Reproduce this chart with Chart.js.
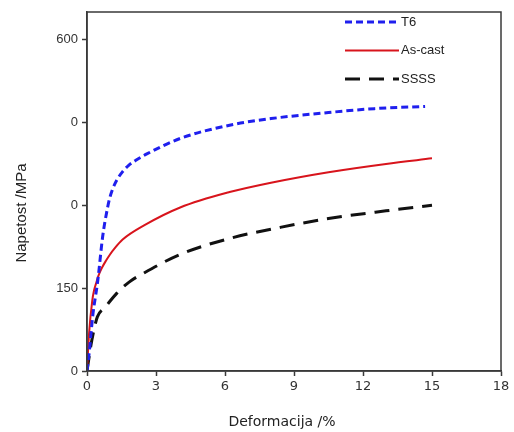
<!DOCTYPE html>
<html>
<head>
<meta charset="utf-8">
<script src="https://cdn.jsdelivr.net/npm/chart.js@4/dist/chart.umd.min.js"></script>
<style>
  html, body { margin: 0; padding: 0; background: #fff; }
  #wrap { width: 514px; height: 432px; }
</style>
</head>
<body>
<div id="wrap"><canvas id="c"></canvas></div>
<script>
// stress-strain curves, strain in %, stress in MPa
const t6Strain = [0, 0.1, 0.25, 0.47, 0.68, 0.9, 1.0, 1.12, 1.3, 1.55, 1.8, 2.14, 2.6, 4.05, 6.2, 8.0, 10.5, 12.5, 14.7];
const t6Stress = [0, 35, 100, 164, 243, 297, 315, 330, 346, 361, 372, 382, 393, 421, 445, 457, 468, 475, 479];

const castStrain = [0, 0.09, 0.23, 0.3, 0.39, 0.47, 0.55, 0.65, 0.83, 1.0, 1.2, 1.55, 2.5, 4.05, 6.2, 8.0, 10.5, 13, 15];
const castStress = [0, 68, 128, 145, 158, 169, 178, 187, 200, 211, 222, 238, 264, 296, 324, 341, 360, 375, 385];

const ssssStrain = [0, 0.08, 0.16, 0.3, 0.45, 0.8, 1.3, 1.83, 2.5, 4.05, 6.2, 8.4, 10.5, 13, 15];
const ssssStress = [0, 22, 44, 74, 98, 116, 141, 161, 178, 211, 240, 260, 276, 290, 300];

const xTicks = [0, 3, 6, 9, 12, 15, 18];
const yTicks = [0, 150, 300, 450, 600];
const yTickLabels = ['0', '150', '0', '0', '600'];

const seriesNames = ['T6', 'As-cast', 'SSSS'];
const xTitle = 'Deformacija /%';
const yTitle = 'Napetost /MPa';

function pts(xs, ys) {
  return xs.map((x, i) => ({ x: x, y: ys[i] }));
}

const axisColor = '#3a3a3a';

// box round the plot area, axis titles and the legend in the upper right corner
const framePlugin = {
  id: 'frame',
  afterDraw(chart) {
    const ctx = chart.ctx;
    const a = chart.chartArea;
    ctx.save();
    ctx.strokeStyle = axisColor;
    ctx.lineWidth = 1.5;
    ctx.strokeRect(a.left, a.top, a.right - a.left, a.bottom - a.top);

    ctx.fillStyle = '#222';
    ctx.textAlign = 'center';
    ctx.textBaseline = 'middle';
    ctx.font = '14px "DejaVu Sans", Verdana, sans-serif';
    ctx.fillText(xTitle, 282, 422);

    ctx.save();
    ctx.translate(22, 213);
    ctx.rotate(-Math.PI / 2);
    ctx.font = '15px "Liberation Sans", Arial, sans-serif';
    ctx.fillText(yTitle, 0, 0);
    ctx.restore();

    ctx.textAlign = 'left';
    ctx.font = '13px "Liberation Sans", Arial, sans-serif';
    chart.data.datasets.forEach((ds, i) => {
      const y = 22 + i * 28.5;
      ctx.beginPath();
      ctx.strokeStyle = ds.borderColor;
      ctx.lineWidth = ds.borderWidth;
      ctx.setLineDash(ds.borderDash || []);
      ctx.moveTo(345, y);
      ctx.lineTo(399, y);
      ctx.stroke();
      ctx.setLineDash([]);
      ctx.fillText(ds.label, 401, y);
    });
    ctx.restore();
  }
};

new Chart(document.getElementById('c'), {
  type: 'scatter',
  data: {
    datasets: [
      {
        label: seriesNames[0],
        data: pts(t6Strain, t6Stress),
        borderColor: '#1f1fee',
        borderWidth: 3,
        borderDash: [7, 4]
      },
      {
        label: seriesNames[1],
        data: pts(castStrain, castStress),
        borderColor: '#d8141c',
        borderWidth: 2
      },
      {
        label: seriesNames[2],
        data: pts(ssssStrain, ssssStress),
        borderColor: '#111',
        borderWidth: 3,
        borderDash: [15, 9]
      }
    ]
  },
  options: {
    responsive: true,
    maintainAspectRatio: false,
    animation: false,
    showLine: true,
    elements: {
      point: { radius: 0 },
      line: { cubicInterpolationMode: 'monotone', fill: false }
    },
    layout: { padding: { top: 12, right: 13, left: 0, bottom: 0 } },
    plugins: {
      legend: { display: false },
      tooltip: { enabled: false }
    },
    scales: {
      x: {
        type: 'linear',
        min: 0,
        max: 18,
        afterBuildTicks: s => { s.ticks = xTicks.map(v => ({ value: v })); },
        afterFit: s => { s.height = 61; },
        grid: { drawOnChartArea: false, drawTicks: true, tickLength: 5, tickColor: axisColor, tickWidth: 1.5 },
        border: { color: axisColor, width: 1.5 },
        ticks: {
          color: '#333',
          padding: 3,
          font: { family: '"DejaVu Sans", Verdana, sans-serif', size: 13 },
          maxRotation: 0
        }
      },
      y: {
        type: 'linear',
        min: 0,
        max: 650,
        afterBuildTicks: s => { s.ticks = yTicks.map(v => ({ value: v })); },
        afterFit: s => { s.width = 87; },
        grid: { drawOnChartArea: false, drawTicks: true, tickLength: 5, tickColor: axisColor, tickWidth: 1.5 },
        border: { color: axisColor, width: 1.5 },
        ticks: {
          color: '#333',
          padding: 4,
          font: { family: '"Liberation Sans", Arial, sans-serif', size: 13 },
          callback: (v) => yTickLabels[yTicks.indexOf(v)]
        }
      }
    }
  },
  plugins: [framePlugin]
});
</script>
</body>
</html>
